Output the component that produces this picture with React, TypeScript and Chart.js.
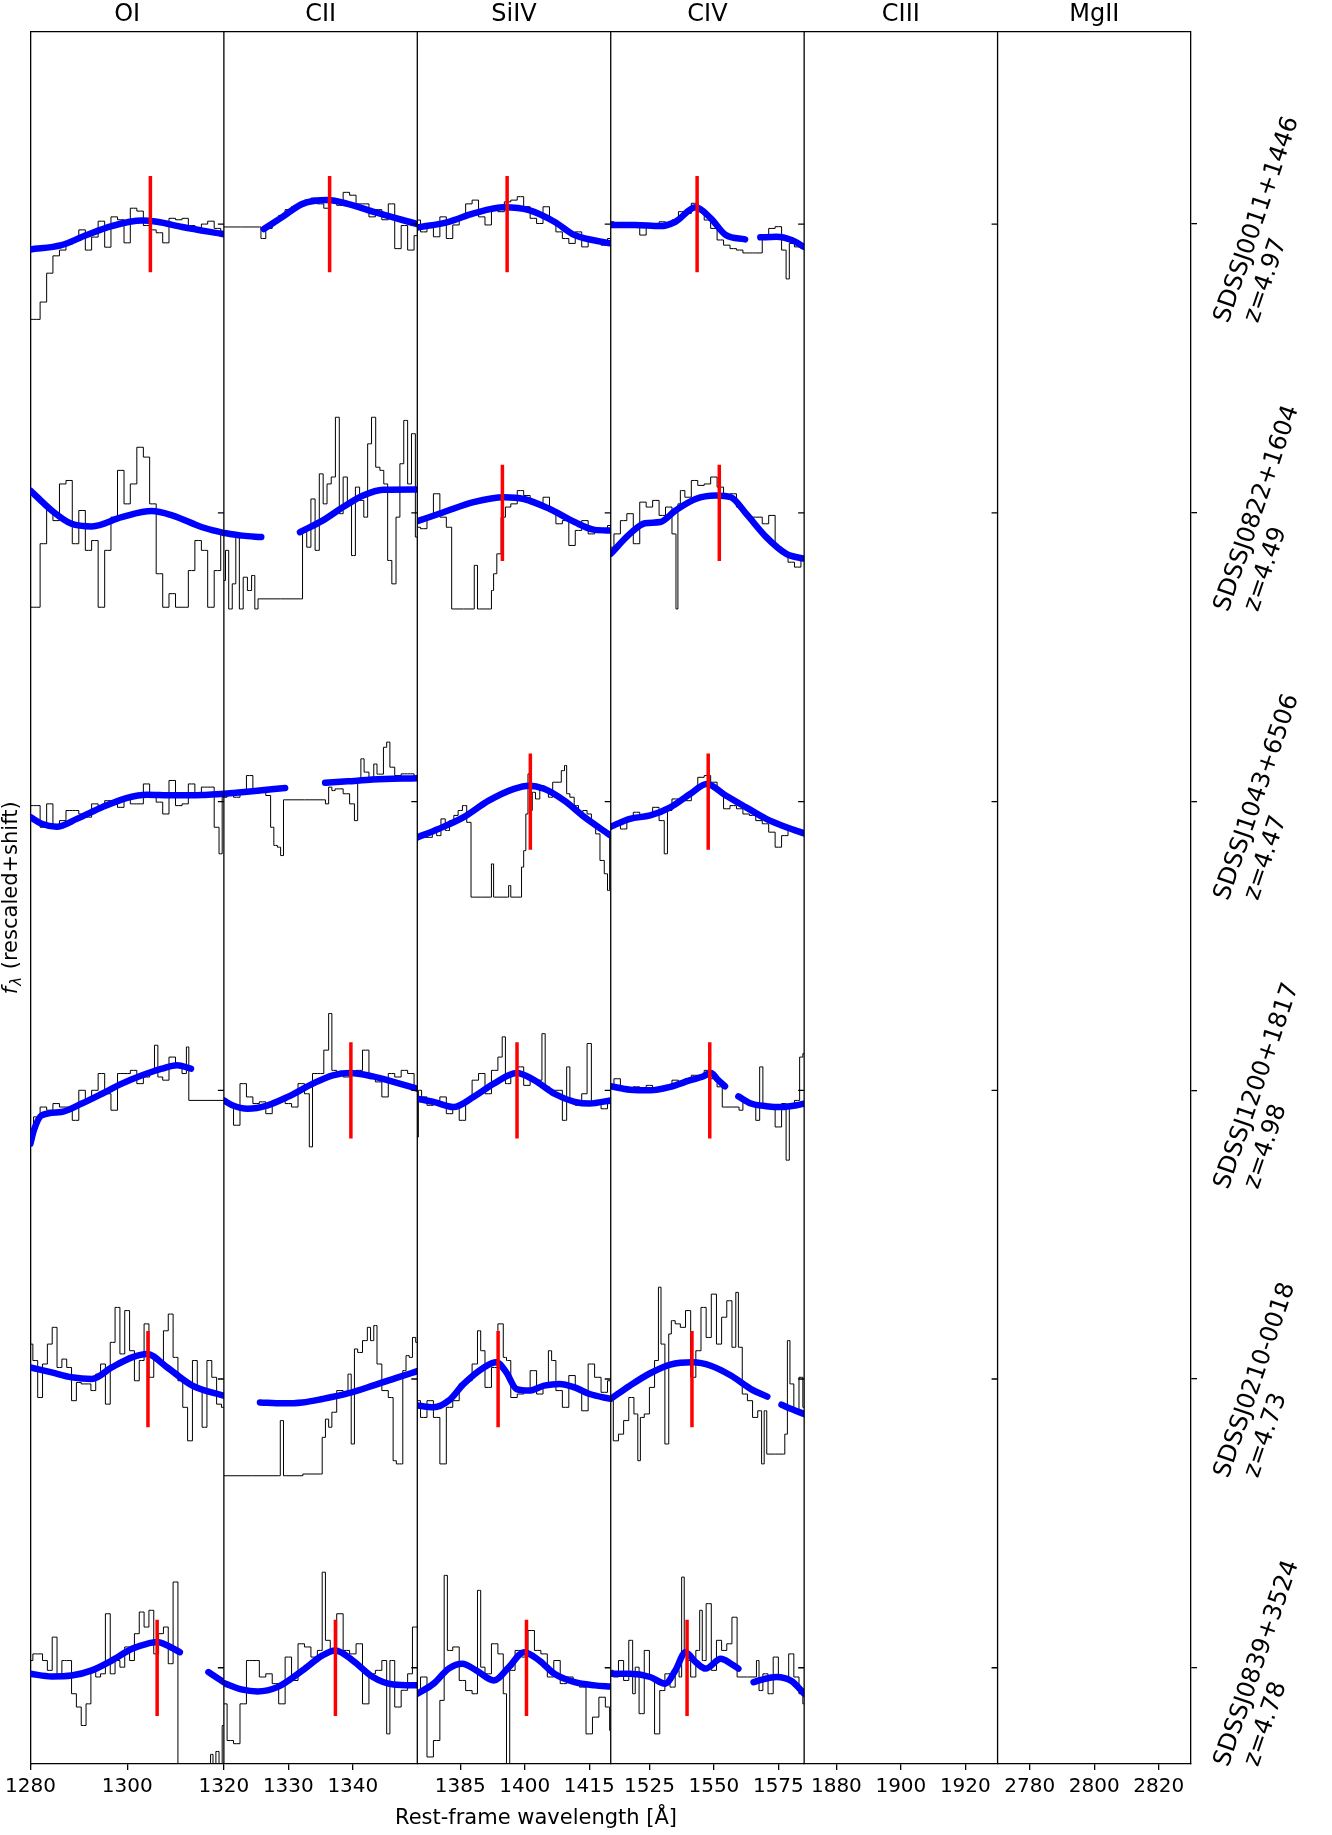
import React, { useEffect, useRef } from "react";
import { Chart, registerables } from "chart.js";
Chart.register(...registerables);

type P = [number, number];

// ---------- axes / labels ----------
const COLUMNS = ["OI", "CII", "SiIV", "CIV", "CIII", "MgII"];
const X_MIN = [1280, 1320, 1375, 1510, 1870, 2770];
const X_MAX = [1320, 1350, 1420, 1585, 1930, 2830];
const X_TICKS = [
  [1280, 1300, 1320],
  [1330, 1340],
  [1385, 1400, 1415],
  [1525, 1550, 1575],
  [1880, 1900, 1920],
  [2780, 2800, 2820],
];
const QSO_NAMES = ["SDSSJ0011+1446", "SDSSJ0822+1604", "SDSSJ1043+6506", "SDSSJ1200+1817", "SDSSJ0210-0018", "SDSSJ0839+3524"];
const QSO_Z = ["z=4.97", "z=4.49", "z=4.47", "z=4.98", "z=4.73", "z=4.78"];
const X_LABEL = "Rest-frame wavelength [Å]";
const Y_LABEL_REST = " (rescaled+shift)";

// ---------- row 1 : SDSSJ0011+1446 ----------
const SPEC_R1_OI: P[] = [[1280,-0.33],[1281.3,-0.33],[1282.7,-0.27],[1284,-0.17],[1285.3,-0.11],[1286.7,-0.09],[1288,-0.07],[1289.3,-0.055],[1290.7,-0.02],[1292,-0.09],[1293.3,-0.045],[1294.7,0.01],[1296,-0.08],[1297.3,0.025],[1298.7,0.015],[1300,-0.065],[1301.3,0.055],[1302.7,0.045],[1304,-0.005],[1305.3,-0.02],[1306.7,-0.03],[1308,-0.065],[1309.3,0.02],[1310.7,0.015],[1312,0.02],[1313.3,-0.005],[1314.7,-0.02],[1316,0],[1317.3,0.01],[1318.7,-0.015],[1320,-0.025]];
const FIT_R1_OI: P[] = [[1280,-0.088],[1286.4,-0.073],[1291.6,-0.038],[1296.8,-0.007],[1303.1,0.012],[1306.2,0.008],[1311.4,-0.01],[1320,-0.035]];
const SPEC_R1_CII: P[] = [[1320,-0.01],[1325.5,-0.01],[1326,-0.05],[1327,-0.015],[1328,0.008],[1329,0.03],[1330,0.05],[1331,0.06],[1332,0.065],[1333,0.083],[1334,0.09],[1335,0.07],[1336,0.055],[1337,0.083],[1338,0.065],[1339,0.11],[1340,0.1],[1341,0.07],[1342,0.07],[1343,0.025],[1344,0.05],[1345,0.015],[1346,0.07],[1347,-0.085],[1348,-0.005],[1349,-0.09],[1350,-0.04]];
const FIT_R1_CII: P[] = [[1326.2,-0.017],[1329.1,0.025],[1332.2,0.07],[1336.1,0.083],[1339.2,0.07],[1343.1,0.043],[1350,0]];
const SPEC_R1_SIIV: P[] = [[1375,0.014],[1376.5,-0.027],[1378,-0.003],[1379.5,-0.044],[1381,0.025],[1382.5,-0.05],[1384,-0.003],[1385.5,0.02],[1387,0.07],[1388.5,0.083],[1390,0.025],[1391.5,-0.003],[1393,0.048],[1394.5,0.043],[1396,0.077],[1397.5,0.083],[1399,0.095],[1400.5,0.06],[1402,0.02],[1403.5,0.002],[1405,0.06],[1406.5,0.008],[1408,-0.027],[1409.5,-0.05],[1411,-0.067],[1412.5,-0.027],[1414,-0.079],[1415.5,-0.05],[1417,-0.06],[1418.5,-0.073],[1420,-0.05]];
const FIT_R1_SIIV: P[] = [[1375,-0.012],[1382.3,0.008],[1388.1,0.037],[1395.2,0.058],[1401,0.048],[1406.9,0.008],[1411.6,-0.038],[1420,-0.067]];
const SPEC_R1_CIV: P[] = [[1510,0.008],[1512.5,-0.003],[1515,0.002],[1517.5,-0.009],[1520,0],[1522.5,-0.038],[1525,-0.003],[1527.5,-0.009],[1530,0.008],[1532.5,-0.003],[1535,0.014],[1537.5,0.043],[1540,0.037],[1542.5,0.072],[1545,0.043],[1547.5,0.014],[1550,-0.015],[1552.5,-0.055],[1555,-0.073],[1557.5,-0.085],[1560,-0.09],[1562.5,-0.1],[1565,-0.1],[1567.5,-0.1],[1570,-0.05],[1572.5,-0.015],[1575,-0.009],[1577.5,-0.09],[1578.5,-0.19],[1580,-0.067],[1582.5,-0.079],[1585,-0.085]];
const FIT_R1_CIV_A: P[] = [[1510,-0.003],[1519.4,-0.003],[1529.2,-0.007],[1535.1,0.008],[1542.9,0.058],[1548.8,0.02],[1554.6,-0.038],[1562.1,-0.053]];
const FIT_R1_CIV_B: P[] = [[1568,-0.046],[1574.2,-0.044],[1580.1,-0.055],[1585,-0.079]];
const RED_R1 = [1304.8, 1336.4, 1395.9, 1543.5];

// ---------- row 2 : SDSSJ0822+1604 ----------
const SPEC_R2_OI: P[] = [[1280,-0.327],[1281.3,-0.327],[1282.7,-0.107],[1284,0.014],[1285.3,-0.027],[1286.7,0.1],[1288,0.112],[1289.3,-0.107],[1290.7,0.008],[1292,-0.13],[1293.3,-0.096],[1294.7,-0.327],[1296,-0.13],[1297.3,-0.015],[1298.7,0.147],[1300,0.031],[1301.3,0.1],[1302.7,0.227],[1304,0.193],[1305.3,0.031],[1306.7,-0.211],[1308,-0.327],[1309.3,-0.28],[1310.7,-0.327],[1312,-0.327],[1313.3,-0.2],[1314.7,-0.096],[1316,-0.13],[1317.3,-0.327],[1318.7,-0.2],[1320,-0.073]];
const FIT_R2_OI: P[] = [[1280,0.077],[1284.4,0.008],[1288.5,-0.038],[1292.7,-0.047],[1298.9,-0.015],[1305.1,0.006],[1309.3,-0.009],[1315.5,-0.05],[1320,-0.07]];
const SPEC_R2_CII: P[] = [[1320,-0.234],[1320.5,-0.13],[1321,-0.333],[1321.6,-0.246],[1322.1,-0.084],[1322.7,-0.333],[1323.3,-0.223],[1324,-0.269],[1324.6,-0.217],[1325,-0.333],[1325.6,-0.298],[1331.9,-0.298],[1332.5,-0.067],[1333.2,-0.119],[1333.8,0.048],[1334.5,-0.13],[1335.1,0.135],[1335.7,0.031],[1336.3,0.1],[1337,0.124],[1337.6,0.331],[1338.2,-0.003],[1338.8,0.124],[1339.5,0.031],[1340.1,-0.148],[1340.7,0.089],[1341.4,0.043],[1342,-0.015],[1342.6,0.239],[1343.2,0.331],[1343.9,0.158],[1344.5,0.147],[1345.1,0.1],[1345.7,-0.165],[1346.4,-0.246],[1347,-0.015],[1347.6,0.17],[1348.2,0.32],[1348.8,0.1],[1349.4,0.274],[1350,-0.084]];
const FIT_R2_CII_A: P[] = [[1320,-0.07],[1322.9,-0.079],[1325.8,-0.084]];
const FIT_R2_CII_B: P[] = [[1331.8,-0.067],[1335.3,-0.027],[1338.5,0.02],[1341.6,0.06],[1344.7,0.08],[1350,0.081]];
const SPEC_R2_SIIV: P[] = [[1375,-0.05],[1376.5,-0.055],[1378,-0.015],[1379.5,0.066],[1381,-0.015],[1382.5,-0.05],[1383.5,-0.333],[1388,-0.333],[1388.5,-0.182],[1389.5,-0.333],[1392,-0.333],[1392.5,-0.269],[1393,-0.211],[1394,-0.142],[1395,-0.015],[1396,0.02],[1397.5,0.031],[1399,0.077],[1400.5,0.06],[1402,0.031],[1403.5,0.031],[1405,0.054],[1406.5,0.008],[1408,-0.038],[1409.5,-0.027],[1411,-0.113],[1412.5,-0.061],[1414,-0.027],[1415.5,-0.073],[1417,-0.061],[1418.5,-0.061],[1420,-0.044]];
const FIT_R2_SIIV: P[] = [[1375,-0.029],[1381.1,0.002],[1388.1,0.037],[1395.2,0.054],[1399.8,0.048],[1405.7,0.014],[1411.6,-0.032],[1416.3,-0.059],[1420,-0.061]];
const SPEC_R2_CIV: P[] = [[1510,-0.119],[1512.5,-0.073],[1515,-0.027],[1517.5,-0.003],[1520,-0.107],[1522.5,0.037],[1525,0.02],[1527.5,0.043],[1530,-0.009],[1532.5,0.02],[1535,-0.073],[1535.6,-0.333],[1536.5,0.031],[1537.5,0.077],[1540,0.054],[1542.5,0.112],[1545,0.095],[1547.5,0.1],[1550,0.124],[1552.5,0.089],[1555,0.054],[1557.5,0.066],[1560,0.02],[1562.5,-0.003],[1565,-0.015],[1567.5,-0.015],[1570,-0.038],[1572.5,-0.009],[1575,-0.119],[1577.5,-0.142],[1580,-0.171],[1582.5,-0.188],[1585,-0.159]];
const FIT_R2_CIV: P[] = [[1510,-0.142],[1517.4,-0.073],[1523.3,-0.036],[1529.2,-0.032],[1535.1,0.008],[1542.9,0.048],[1550.7,0.06],[1556.6,0.054],[1562.5,-0.003],[1570.3,-0.084],[1578.1,-0.142],[1585,-0.159]];
const RED_R2 = [null, null, 1394.8, 1552.1];

// ---------- row 3 : SDSSJ1043+6506 ----------
const SPEC_R3_OI: P[] = [[1280,-0.014],[1281.3,-0.014],[1282.7,-0.089],[1284,-0.008],[1285.3,-0.089],[1286.7,-0.066],[1288,-0.031],[1289.3,-0.031],[1290.7,-0.043],[1292,-0.054],[1293.3,-0.008],[1294.7,-0.02],[1296,0.003],[1297.3,-0.002],[1298.7,-0.02],[1300,0.015],[1301.3,-0.008],[1302.7,-0.008],[1304,0.061],[1305.3,0.021],[1306.7,-0.002],[1308,-0.043],[1309.3,0.073],[1310.7,-0.014],[1312,-0.008],[1313.3,0.061],[1314.7,0.021],[1316,0.05],[1317.3,0.05],[1318.7,-0.089],[1319.3,-0.181],[1320,0.015]];
const FIT_R3_OI: P[] = [[1280,-0.054],[1282.3,-0.077],[1285.4,-0.087],[1289.6,-0.06],[1294.8,-0.02],[1300,0.013],[1304.1,0.024],[1309.3,0.022],[1315.5,0.023],[1320,0.027]];
const SPEC_R3_CII: P[] = [[1320,0.015],[1321,0.032],[1322,0.015],[1323,0.027],[1324,0.09],[1325,0.029],[1326,0.038],[1327,0.021],[1327.5,-0.089],[1328,-0.152],[1328.6,-0.158],[1329,-0.187],[1329.5,0.006],[1335.5,0.006],[1336,-0.008],[1336.5,0.05],[1337,0.038],[1337.5,0.044],[1338,0.044],[1339,0.027],[1340,-0.008],[1340.5,-0.066],[1341,0.073],[1341.5,0.148],[1342,0.102],[1343,0.084],[1343.5,0.13],[1344,0.095],[1344.5,0.095],[1345,0.188],[1345.5,0.206],[1346,0.119],[1347,0.09],[1348,0.096],[1349,0.096],[1350,0.084]];
const FIT_R3_CII_A: P[] = [[1320,0.027],[1324.4,0.036],[1329.5,0.047]];
const FIT_R3_CII_B: P[] = [[1335.7,0.065],[1339.2,0.07],[1343.1,0.076],[1350,0.081]];
const SPEC_R3_SIIV: P[] = [[1375,-0.129],[1376,-0.112],[1377,-0.124],[1378,-0.124],[1379,-0.1],[1380,-0.118],[1381,-0.06],[1382,-0.1],[1383,-0.066],[1384,-0.048],[1385,-0.031],[1386,-0.014],[1387,-0.072],[1388,-0.331],[1392,-0.331],[1392.5,-0.216],[1393,-0.331],[1396,-0.331],[1396.5,-0.291],[1397,-0.331],[1399,-0.331],[1399.5,-0.227],[1400,-0.17],[1400.5,-0.043],[1401,0.096],[1401.5,-0.031],[1402,0.032],[1403,0.009],[1404,0.055],[1405,0.038],[1406,0.015],[1407,0.067],[1408,0.067],[1409,0.107],[1409.5,0.125],[1410,0.027],[1411,0.015],[1412,-0.014],[1413,-0.037],[1414,-0.031],[1415,-0.043],[1416,-0.077],[1417,-0.112],[1418,-0.204],[1419,-0.25],[1419.5,-0.308],[1420,-0.124]];
const FIT_R3_SIIV: P[] = [[1375,-0.124],[1379.9,-0.095],[1385.8,-0.054],[1391.6,0.003],[1397.5,0.044],[1401,0.055],[1404.5,0.044],[1409.2,0.003],[1413.9,-0.054],[1420,-0.118]];
const SPEC_R3_CIV: P[] = [[1510,-0.089],[1512.5,-0.072],[1515,-0.095],[1517.5,-0.066],[1520,-0.037],[1522.5,-0.054],[1525,-0.054],[1527.5,-0.02],[1530,-0.066],[1531.5,-0.181],[1532.5,-0.031],[1535,0.009],[1537.5,0.009],[1540,0.003],[1542.5,0.038],[1545,0.084],[1547.5,0.09],[1550,0.067],[1552.5,0.032],[1555,-0.025],[1557.5,-0.014],[1560,-0.025],[1562.5,-0.043],[1565,-0.048],[1567.5,-0.066],[1570,-0.077],[1572.5,-0.106],[1575,-0.158],[1577.5,-0.118],[1580,-0.1],[1582.5,-0.106],[1585,-0.112]];
const FIT_R3_CIV: P[] = [[1510,-0.087],[1517.4,-0.06],[1525.3,-0.048],[1533.1,-0.02],[1540.9,0.027],[1547.2,0.061],[1554.6,0.021],[1562.5,-0.02],[1570.3,-0.06],[1578.1,-0.089],[1585,-0.11]];
const RED_R3 = [null, null, 1401.3, 1547.8];

// ---------- row 4 : SDSSJ1200+1817 ----------
const SPEC_R4_OI: P[] = [[1280,-0.15],[1281.3,-0.092],[1282.7,-0.058],[1284,-0.069],[1285.3,-0.046],[1286.7,-0.058],[1288,-0.058],[1289.3,-0.104],[1290.7,0],[1292,-0.035],[1293.3,0],[1294.7,0.058],[1296,-0.012],[1297.3,-0.069],[1298.7,0.058],[1300,0.058],[1301.3,0.069],[1302.7,0.023],[1304,0.046],[1305.3,0.069],[1306,0.156],[1306.7,0.046],[1308,0.035],[1309.3,0.115],[1310.7,0.081],[1312,0.058],[1312.5,0.15],[1313,-0.035],[1320,-0.035]];
const FIT_R4_OI: P[] = [[1280,-0.185],[1280.7,-0.139],[1282.3,-0.087],[1286.4,-0.075],[1290.6,-0.046],[1294.8,-0.012],[1298.9,0.023],[1303.1,0.052],[1307.2,0.075],[1310.3,0.087],[1313.2,0.075]];
const SPEC_R4_CII: P[] = [[1320,-0.035],[1321,-0.046],[1322,-0.121],[1323,0.023],[1324,-0.023],[1325,-0.046],[1326,-0.04],[1327,-0.081],[1328,-0.035],[1329,-0.035],[1330,-0.046],[1331,-0.058],[1332,0.023],[1333,-0.012],[1333.5,-0.196],[1334,0.058],[1335,0.058],[1336,0.139],[1336.5,0.266],[1337,0.069],[1338,0.058],[1339,0.046],[1340,0.058],[1341,0.069],[1342,0.139],[1343,0.046],[1344,0.029],[1345,-0.023],[1346,0.058],[1347,0.046],[1348,0.069],[1349,0.058],[1350,0.012]];
const FIT_R4_CII: P[] = [[1320,-0.035],[1321.3,-0.052],[1323.7,-0.064],[1326.8,-0.052],[1329.9,-0.023],[1333.8,0.023],[1336.9,0.052],[1339.6,0.06],[1343.1,0.048],[1346.3,0.029],[1350,0.006]];
const SPEC_R4_SIIV: P[] = [[1375,-0.162],[1375.5,0],[1376.5,-0.023],[1378,-0.052],[1379.5,-0.035],[1381,-0.023],[1382.5,-0.081],[1384,-0.058],[1385.5,-0.104],[1387,-0.035],[1388.5,0.035],[1390,0.058],[1391.5,-0.012],[1393,0.069],[1394.5,0.115],[1395,0.185],[1396,0.023],[1397.5,0.058],[1399,0.081],[1400.5,0.017],[1402,0.035],[1403.5,0.035],[1404.5,0.196],[1405,0.012],[1406.5,0],[1408,0],[1409.5,-0.104],[1410,0.081],[1411,-0.035],[1412.5,-0.052],[1414,-0.012],[1415,0.162],[1416,-0.046],[1417,-0.035],[1418.5,-0.064],[1420,-0.046]];
const FIT_R4_SIIV: P[] = [[1375,-0.029],[1378.8,-0.04],[1383.4,-0.058],[1388.1,-0.023],[1392.8,0.023],[1398.1,0.06],[1402.2,0.035],[1406.9,-0.012],[1411.6,-0.04],[1415.1,-0.046],[1420,-0.035]];
const SPEC_R4_CIV: P[] = [[1510,0.012],[1512.5,0.04],[1515,0.006],[1517.5,0],[1520,0.012],[1522.5,0],[1525,0.017],[1527.5,0],[1530,0.012],[1532.5,0.017],[1535,0.035],[1537.5,0.023],[1540,0.04],[1542.5,0.052],[1545,0.052],[1547.5,0.069],[1550,0.04],[1552.5,0.012],[1554,-0.058],[1559.5,-0.058],[1560,-0.069],[1562.5,-0.04],[1565,-0.046],[1567.5,-0.104],[1568,0.081],[1570,-0.052],[1572.5,-0.064],[1575,-0.127],[1577.5,-0.046],[1578.5,-0.242],[1580,-0.046],[1582.5,-0.035],[1584,0.115],[1585,0.127]];
const FIT_R4_CIV_A: P[] = [[1510,0.014],[1517.4,0.002],[1525.3,0],[1533.1,0.012],[1540.9,0.035],[1545.8,0.048],[1548.8,0.06],[1551.7,0.035],[1554.3,0.014]];
const FIT_R4_CIV_B: P[] = [[1559.5,-0.021],[1564.4,-0.046],[1570.3,-0.055],[1576.2,-0.058],[1582.1,-0.052],[1585,-0.046]];
const RED_R4 = [null, 1339.7, 1398.2, 1548.4];

// ---------- row 5 : SDSSJ0210-0018 ----------
const SPEC_R5_OI: P[] = [[1280,0.121],[1281,0.064],[1282,-0.064],[1283,0.052],[1284,0.121],[1285,0.179],[1286,0.04],[1287,0.069],[1288,0.04],[1289,-0.075],[1290,-0.012],[1291,-0.017],[1292,-0.017],[1293,-0.04],[1294,0.017],[1295,0.052],[1296,-0.087],[1297,0.127],[1298,0.248],[1299,0.087],[1300,0.237],[1301,0.098],[1302,-0.006],[1303,0.064],[1304,0.191],[1305,0.006],[1306,0.075],[1307,0.052],[1308,0.167],[1309,0.225],[1310,0.075],[1311,-0.006],[1312,-0.098],[1313,-0.214],[1314,0.064],[1315,-0.029],[1316,-0.167],[1317,0.064],[1318,0.006],[1319,-0.087],[1320,-0.098]];
const FIT_R5_OI: P[] = [[1280,0.04],[1284.4,0.023],[1288.5,0.006],[1292.7,0],[1296.8,0.04],[1301,0.075],[1304.1,0.087],[1308.3,0.04],[1313.5,-0.023],[1320,-0.058]];
const SPEC_R5_CII: P[] = [[1320,-0.335],[1328.5,-0.335],[1329,-0.144],[1329.5,-0.335],[1335,-0.329],[1335.5,-0.202],[1336,-0.139],[1336.5,-0.167],[1337,-0.115],[1338,-0.04],[1339,-0.052],[1339.5,0.017],[1340,-0.225],[1340.5,0.104],[1341,0.092],[1342,0.133],[1342.5,0.179],[1343,0.133],[1343.5,0.185],[1344,0.052],[1345,-0.04],[1346,-0.064],[1346.5,-0.283],[1347,-0.294],[1347.5,-0.294],[1348,0.029],[1348.5,0.081],[1349,0.075],[1349.5,0.144],[1350,0.127]];
const FIT_R5_CII: P[] = [[1325.6,-0.081],[1329.1,-0.084],[1332.2,-0.081],[1335.3,-0.069],[1339.2,-0.05],[1343.1,-0.023],[1347,0.006],[1350,0.027]];
const SPEC_R5_SIIV: P[] = [[1375,-0.075],[1376.5,-0.133],[1378,-0.075],[1379.5,-0.133],[1381,-0.294],[1382.5,-0.098],[1384,-0.075],[1385.5,-0.017],[1387,-0.006],[1388.5,0.052],[1389.5,0.167],[1390,0.098],[1391.5,-0.029],[1393,0.04],[1394.5,0.191],[1395.5,0.075],[1396,0.064],[1397.5,-0.064],[1399,-0.052],[1400.5,-0.046],[1402,0.029],[1403.5,-0.052],[1405,-0.017],[1406,0.098],[1406.5,0.064],[1408,-0.04],[1409.5,-0.098],[1411,0.012],[1412.5,-0.029],[1414,-0.11],[1415.5,0.052],[1417,0.006],[1418.5,-0.046],[1420,-0.006]];
const FIT_R5_SIIV: P[] = [[1375,-0.092],[1378.8,-0.098],[1382.3,-0.075],[1385.8,-0.017],[1390.5,0.04],[1393.4,0.058],[1395.7,0.023],[1398.1,-0.035],[1401,-0.04],[1404.5,-0.023],[1408.1,-0.017],[1411.6,-0.029],[1415.1,-0.052],[1420,-0.069]];
const SPEC_R5_CIV: P[] = [[1510,-0.075],[1512,-0.214],[1514,-0.191],[1516,-0.144],[1518,-0.064],[1520,-0.121],[1521,-0.283],[1522,-0.133],[1524,-0.121],[1526,-0.029],[1528,0.064],[1529,0.318],[1530,0.121],[1532,-0.225],[1533,0.156],[1534,0.202],[1536,0.191],[1538,0.179],[1540,0.237],[1542,0.006],[1544,0.098],[1546,0.248],[1548,0.144],[1550,0.294],[1552,0.121],[1554,0.214],[1556,0.271],[1558,0.11],[1559,0.3],[1560,0.11],[1562,-0.052],[1564,-0.075],[1566,-0.133],[1568,-0.11],[1569,-0.294],[1570,-0.11],[1571,-0.26],[1577,-0.26],[1578,-0.191],[1579,0.133],[1580,-0.017],[1582,-0.11],[1584,0.006],[1585,-0.098]];
const FIT_R5_CIV_A: P[] = [[1510,-0.069],[1517.4,-0.023],[1525.3,0.02],[1533.1,0.05],[1541.9,0.058],[1548.8,0.046],[1556.6,0.012],[1564.4,-0.035],[1570.7,-0.061]];
const FIT_R5_CIV_B: P[] = [[1576.2,-0.089],[1580.1,-0.104],[1585,-0.121]];
const RED_R5 = [1304.3, null, 1393.8, 1541.5];

// ---------- row 6 : SDSSJ0839+3524 ----------
const SPEC_R6_OI: P[] = [[1280,0.025],[1281,0.048],[1282,0.048],[1283,0.025],[1284,-0.009],[1285,0.106],[1286,-0.032],[1287,0.025],[1288,0.025],[1289,-0.09],[1290,-0.136],[1291,-0.2],[1292,-0.125],[1293,-0.009],[1294,-0.032],[1295,-0.021],[1296,0.187],[1297,-0.021],[1298,0.025],[1299,0.002],[1300,0.072],[1301,0.025],[1302,0.118],[1303,0.193],[1304,0.141],[1305,0.199],[1306,0.048],[1307,0.118],[1308,0.141],[1309,0.014],[1310,0.297],[1311,-0.45],[1317,-0.45],[1317.5,-0.3],[1318,-0.45],[1318.7,-0.29],[1319.3,-0.45],[1320,-0.2]];
const FIT_R6_OI_A: P[] = [[1280,-0.021],[1284.4,-0.03],[1288.5,-0.027],[1292.7,-0.009],[1296.8,0.025],[1301,0.066],[1304.1,0.083],[1306.2,0.089],[1308.3,0.077],[1310.9,0.054]];
const FIT_R6_OI_B: P[] = [[1316.8,-0.015],[1320,-0.05]];
const SPEC_R6_CII: P[] = [[1320,-0.125],[1321,-0.252],[1322,-0.263],[1323,-0.125],[1324,0.025],[1325,0.025],[1326,-0.032],[1327,-0.021],[1328,-0.055],[1329,-0.125],[1330,0.037],[1331,-0.044],[1332,0.083],[1333,0.072],[1334,0.037],[1335,0.06],[1335.5,0.331],[1336,0.095],[1337,0.06],[1338,0.187],[1339,0.06],[1340,0.048],[1341,0.083],[1342,-0.125],[1343,-0.021],[1344,-0.009],[1345,0.025],[1345.5,-0.229],[1346,0.025],[1347,-0.136],[1348,-0.078],[1349,-0.021],[1349.5,0.141],[1350,0.141]];
const FIT_R6_CII: P[] = [[1320,-0.053],[1322.9,-0.076],[1325.2,-0.082],[1328.3,-0.067],[1332.2,-0.009],[1335.3,0.043],[1337.3,0.06],[1340,0.025],[1343.1,-0.032],[1346.3,-0.058],[1350,-0.061]];
const SPEC_R6_SIIV: P[] = [[1375,-0.09],[1376.5,-0.032],[1378,-0.309],[1379.5,-0.252],[1381,-0.113],[1381.5,0.32],[1382.5,0.06],[1384,0.072],[1385.5,-0.044],[1387,-0.079],[1388.5,-0.09],[1389.5,0.268],[1390,0.002],[1391.5,-0.021],[1393,0.083],[1394.5,0.048],[1395.5,-0.09],[1396,-0.45],[1397,-0.009],[1398.5,0.06],[1400,0.037],[1401.5,0.129],[1403,0.06],[1404.5,0.048],[1406,-0.032],[1407.5,0.025],[1409,-0.055],[1410.5,-0.032],[1412,-0.044],[1413.5,-0.067],[1415,-0.229],[1416.5,-0.171],[1418,-0.102],[1419.5,-0.136],[1420,-0.217]];
const FIT_R6_SIIV: P[] = [[1375,-0.09],[1378.8,-0.055],[1382.3,-0.003],[1385.5,0.014],[1388.7,-0.009],[1392.8,-0.044],[1396.3,0.002],[1399.8,0.054],[1403.4,0.025],[1406.9,-0.021],[1411.6,-0.05],[1416.3,-0.061],[1420,-0.065]];
const SPEC_R6_CIV: P[] = [[1510,-0.009],[1512,-0.032],[1514,0.025],[1516,-0.044],[1518,0.095],[1519,-0.09],[1520,0.002],[1522,-0.159],[1524,0.06],[1526,-0.032],[1528,-0.229],[1530,-0.079],[1532,-0.021],[1534,-0.067],[1536,-0.009],[1537,-0.032],[1538,0.314],[1539,0.048],[1540,0.025],[1542,-0.032],[1544,0.06],[1545,0.199],[1546,0.025],[1548,0.222],[1550,-0.009],[1552,0.095],[1554,0.06],[1556,0.083],[1558,0.175],[1560,-0.032],[1566,-0.032],[1567,0.025],[1568,-0.079],[1570,-0.021],[1572,-0.09],[1574,0.037],[1576,-0.032],[1578,-0.044],[1580,0.048],[1582,-0.032],[1584,-0.09],[1585,-0.125]];
const FIT_R6_CIV_A: P[] = [[1510,-0.021],[1517.4,-0.021],[1525.3,-0.032],[1531.1,-0.055],[1535.1,-0.009],[1539,0.054],[1542.9,0.02],[1546.8,-0.003],[1552.7,0.031],[1556.6,0.014],[1559.5,-0.003]];
const FIT_R6_CIV_B: P[] = [[1565.4,-0.05],[1568.3,-0.042],[1574.2,-0.032],[1580.1,-0.046],[1585,-0.09]];
const RED_R6 = [1306.2, 1337.3, 1400.4, 1539.6];

// ---------- assembly tables ----------
const SPECTRA: P[][][] = [
  [SPEC_R1_OI, SPEC_R1_CII, SPEC_R1_SIIV, SPEC_R1_CIV],
  [SPEC_R2_OI, SPEC_R2_CII, SPEC_R2_SIIV, SPEC_R2_CIV],
  [SPEC_R3_OI, SPEC_R3_CII, SPEC_R3_SIIV, SPEC_R3_CIV],
  [SPEC_R4_OI, SPEC_R4_CII, SPEC_R4_SIIV, SPEC_R4_CIV],
  [SPEC_R5_OI, SPEC_R5_CII, SPEC_R5_SIIV, SPEC_R5_CIV],
  [SPEC_R6_OI, SPEC_R6_CII, SPEC_R6_SIIV, SPEC_R6_CIV],
];
const FITS: P[][][][] = [
  [[FIT_R1_OI], [FIT_R1_CII], [FIT_R1_SIIV], [FIT_R1_CIV_A, FIT_R1_CIV_B]],
  [[FIT_R2_OI], [FIT_R2_CII_A, FIT_R2_CII_B], [FIT_R2_SIIV], [FIT_R2_CIV]],
  [[FIT_R3_OI], [FIT_R3_CII_A, FIT_R3_CII_B], [FIT_R3_SIIV], [FIT_R3_CIV]],
  [[FIT_R4_OI], [FIT_R4_CII], [FIT_R4_SIIV], [FIT_R4_CIV_A, FIT_R4_CIV_B]],
  [[FIT_R5_OI], [FIT_R5_CII], [FIT_R5_SIIV], [FIT_R5_CIV_A, FIT_R5_CIV_B]],
  [[FIT_R6_OI_A, FIT_R6_OI_B], [FIT_R6_CII], [FIT_R6_SIIV], [FIT_R6_CIV_A, FIT_R6_CIV_B]],
];
const REDS: (number | null)[][] = [RED_R1, RED_R2, RED_R3, RED_R4, RED_R5, RED_R6];

const N_ROWS = 6;
const Y_MIN = -1 / 3;
const Y_MAX = 5 + 2 / 3;
const RED_HALF = 1 / 6;
const FONT = '"DejaVu Sans", "Liberation Sans", sans-serif';

const baseOf = (row: number) => N_ROWS - 1 - row;

function buildDatasets() {
  const ds: any[] = [];
  for (let r = 0; r < N_ROWS; r++) {
    const b = baseOf(r);
    for (let c = 0; c < 4; c++) {
      const red = REDS[r][c];
      if (red !== null) {
        ds.push({
          data: [{ x: red, y: b - RED_HALF }, { x: red, y: b + RED_HALF }],
          xAxisID: "x" + c, yAxisID: "y",
          borderColor: "#ff0000", borderWidth: 3.5, tension: 0, pointRadius: 0, order: 0,
        });
      }
      for (const fit of FITS[r][c]) {
        ds.push({
          data: fit.map(([x, f]) => ({ x, y: b + f })),
          xAxisID: "x" + c, yAxisID: "y",
          borderColor: "#0000ff", borderWidth: 6.5, cubicInterpolationMode: "monotone",
          borderCapStyle: "round", borderJoinStyle: "round", pointRadius: 0, order: 1,
        });
      }
      ds.push({
        data: SPECTRA[r][c].map(([x, f]) => ({ x, y: b + f })),
        xAxisID: "x" + c, yAxisID: "y",
        borderColor: "#000000", borderWidth: 1, stepped: "middle", pointRadius: 0, order: 2,
      });
    }
  }
  return ds;
}

const decorPlugin = {
  id: "decor",
  afterDraw(chart: any) {
    const { ctx, chartArea: a, scales } = chart;
    ctx.save();
    ctx.strokeStyle = "#000";
    ctx.lineWidth = 1.3;
    ctx.beginPath();
    ctx.moveTo(a.left, a.top);
    ctx.lineTo(a.right, a.top);
    for (let i = 0; i < 5; i++) {
      const x = scales["x" + i].right;
      ctx.moveTo(x, a.top);
      ctx.lineTo(x, a.bottom);
    }
    ctx.stroke();
    // inner y tick marks at each panel border
    ctx.beginPath();
    for (let r = 0; r < N_ROWS; r++) {
      const py = scales.y.getPixelForValue(baseOf(r));
      for (let i = 0; i < 5; i++) {
        const x = scales["x" + i].right;
        ctx.moveTo(x - 6, py);
        ctx.lineTo(x, py);
      }
    }
    ctx.stroke();

    ctx.fillStyle = "#000";
    // column titles
    ctx.font = "24px " + FONT;
    ctx.textAlign = "center";
    ctx.textBaseline = "alphabetic";
    for (let i = 0; i < COLUMNS.length; i++) {
      const s = scales["x" + i];
      ctx.fillText(COLUMNS[i], (s.left + s.right) / 2, 21);
    }
    // x label
    ctx.font = "21px " + FONT;
    ctx.fillText(X_LABEL, 536, 1824);

    // y label with subscript lambda
    ctx.save();
    ctx.translate(17, (a.top + a.bottom) / 2);
    ctx.rotate(-Math.PI / 2);
    ctx.textAlign = "left";
    const fItal = "italic 21px " + FONT;
    const subF = "italic 15px " + FONT;
    const regF = "21px " + FONT;
    ctx.font = fItal; const wf = ctx.measureText("f").width;
    ctx.font = subF; const wl = ctx.measureText("λ").width;
    ctx.font = regF; const wr = ctx.measureText(Y_LABEL_REST).width;
    const x0 = -(wf + wl + wr + 2) / 2;
    ctx.font = fItal; ctx.fillText("f", x0, 0);
    ctx.font = subF; ctx.fillText("λ", x0 + wf + 1, 4);
    ctx.font = regF; ctx.fillText(Y_LABEL_REST, x0 + wf + wl + 2, 0);
    ctx.restore();

    // right-hand object labels
    ctx.font = "24.3px " + FONT;
    ctx.textAlign = "left";
    for (let r = 0; r < N_ROWS; r++) {
      const py = scales.y.getPixelForValue(baseOf(r));
      ctx.save();
      ctx.translate(1228, py + 100);
      ctx.rotate((-71 * Math.PI) / 180);
      ctx.fillText(QSO_NAMES[r], 0, 0);
      ctx.fillText(QSO_Z[r], 10, 28);
      ctx.restore();
    }
    ctx.restore();
  },
};

export default function App() {
  const ref = useRef<HTMLCanvasElement | null>(null);
  useEffect(() => {
    if (!ref.current) return;
    Chart.defaults.font.family = FONT;
    const scales: any = {};
    for (let i = 0; i < 6; i++) {
      scales["x" + i] = {
        type: "linear",
        position: "bottom",
        stack: "cols",
        stackWeight: 1,
        min: X_MIN[i],
        max: X_MAX[i],
        z: 1,
        afterBuildTicks: (s: any) => {
          s.ticks = X_TICKS[i].map((v) => ({ value: v }));
        },
        afterFit: (s: any) => {
          s.height = 40;
        },
        grid: { display: true, drawOnChartArea: false, drawTicks: true, tickLength: 6, color: "#000", lineWidth: 1.3 },
        border: { display: true, color: "#000", width: 1.3 },
        ticks: {
          autoSkip: false, maxRotation: 0, minRotation: 0, padding: 5, color: "#000",
          font: { size: 20, family: FONT },
          callback: (v: any) => String(v),
        },
      };
    }
    scales.y = {
      type: "linear", position: "left", min: Y_MIN, max: Y_MAX, z: 1,
      afterFit: (s: any) => { s.width = 29; },
      grid: { display: false, drawTicks: false },
      border: { display: true, color: "#000", width: 1.3 },
      ticks: { display: false },
    };
    scales.y2 = {
      type: "linear", position: "right", min: Y_MIN, max: Y_MAX, z: 1,
      afterBuildTicks: (s: any) => {
        s.ticks = [0, 1, 2, 3, 4, 5].map((v) => ({ value: v }));
      },
      afterFit: (s: any) => { s.width = 10; },
      grid: { display: true, drawOnChartArea: false, drawTicks: true, tickLength: 6, color: "#000", lineWidth: 1.3 },
      border: { display: true, color: "#000", width: 1.3 },
      ticks: { display: false },
    };

    const chart = new Chart(ref.current, {
      type: "line",
      data: { datasets: buildDatasets() },
      options: {
        responsive: false,
        maintainAspectRatio: false,
        devicePixelRatio: 1,
        animation: false,
        events: [],
        layout: { padding: { left: 0, right: 131, top: 31.6, bottom: 31 }, autoPadding: false } as any,
        plugins: { legend: { display: false }, tooltip: { enabled: false }, title: { display: false } },
        elements: { point: { radius: 0 } },
        scales,
      } as any,
      plugins: [decorPlugin],
    });
    return () => chart.destroy();
  }, []);

  return (
    <div style={{ position: "absolute", left: 0, top: 0, width: 1332, height: 1835, background: "#fff" }}>
      <canvas ref={ref} width={1332} height={1835} style={{ display: "block", width: 1332, height: 1835 }} />
    </div>
  );
}
